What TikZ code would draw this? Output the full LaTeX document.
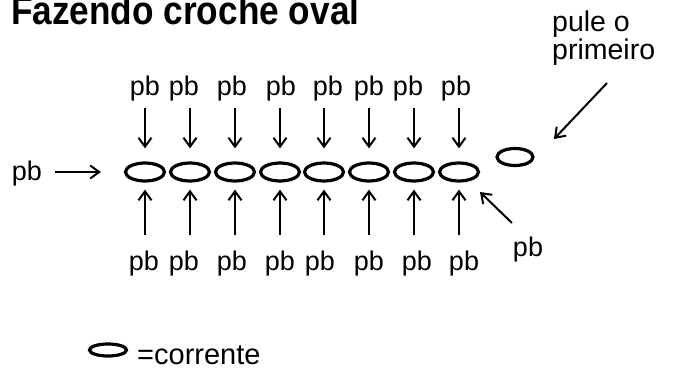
\documentclass[tikz,border=0pt]{standalone}
\usepackage{fontspec}
\setmainfont{Liberation Sans}
\newfontfamily\titlefont[FakeStretch = 0.88]{Liberation Sans Bold}
\usetikzlibrary{arrows.meta,shapes.geometric}

\begin{document}
\begin{tikzpicture}[
  x = 1pt,
  y = -1pt,
  oval/.style = {
    shape = ellipse,
    draw = black,
    line width = 3.2pt,
    minimum width = 39pt,
    minimum height = 18pt,
    inner sep = 0pt,
  },
  pbtext/.style = {
    inner sep = 0pt,
    font = \fontsize{27}{30}\selectfont,
  },
  arr/.style = {
    line width = 2pt,
    -{Straight Barb[length = 9pt, width = 13pt]},
  },
]
  \useasboundingbox (0, 0) rectangle (675, 372);

  \draw node[anchor = base west, inner sep = 0pt,
    font = \fontsize{40}{44}\titlefont] (title) at (11, 24) {Fazendo croche oval};
  \draw node[anchor = north west, inner sep = 0pt, align = left,
    font = \fontsize{28.5}{28}\selectfont] (skip) at (552, 11) {pule o\\primeiro};

  % chain of stitches
  \draw node[oval] (O1) at (145, 172) {};
  \draw node[oval] (O2) at (190, 172) {};
  \draw node[oval] (O3) at (235, 172) {};
  \draw node[oval] (O4) at (280, 172) {};
  \draw node[oval] (O5) at (324, 172) {};
  \draw node[oval] (O6) at (369, 172) {};
  \draw node[oval] (O7) at (414, 172) {};
  \draw node[oval] (O8) at (459, 172) {};
  \draw node[oval, minimum width = 36pt, minimum height = 17pt] (S) at (515, 157) {};

  \draw node[pbtext] (T1) at (145, 89) {pb};
  \draw node[pbtext] (T2) at (184, 89) {pb};
  \draw node[pbtext] (T3) at (232, 89) {pb};
  \draw node[pbtext] (T4) at (281, 89) {pb};
  \draw node[pbtext] (T5) at (328, 89) {pb};
  \draw node[pbtext] (T6) at (369, 89) {pb};
  \draw node[pbtext] (T7) at (408, 89) {pb};
  \draw node[pbtext] (T8) at (456, 89) {pb};

  \draw node[pbtext] (B1) at (144, 264) {pb};
  \draw node[pbtext] (B2) at (184, 264) {pb};
  \draw node[pbtext] (B3) at (232, 264) {pb};
  \draw node[pbtext] (B4) at (280, 264) {pb};
  \draw node[pbtext] (B5) at (320, 264) {pb};
  \draw node[pbtext] (B6) at (369, 264) {pb};
  \draw node[pbtext] (B7) at (417, 264) {pb};
  \draw node[pbtext] (B8) at (464, 264) {pb};

  \draw node[pbtext] (L) at (27, 174) {pb};
  \draw node[pbtext] (R) at (528, 250) {pb};

  \draw[arr, shorten < = 6pt, shorten > = 13pt] (T1.south -| O1) -- (O1.north);
  \draw[arr, shorten < = 6pt, shorten > = 13pt] (T2.south -| O2) -- (O2.north);
  \draw[arr, shorten < = 6pt, shorten > = 13pt] (T3.south -| O3) -- (O3.north);
  \draw[arr, shorten < = 6pt, shorten > = 13pt] (T4.south -| O4) -- (O4.north);
  \draw[arr, shorten < = 6pt, shorten > = 13pt] (T5.south -| O5) -- (O5.north);
  \draw[arr, shorten < = 6pt, shorten > = 13pt] (T6.south -| O6) -- (O6.north);
  \draw[arr, shorten < = 6pt, shorten > = 13pt] (T7.south -| O7) -- (O7.north);
  \draw[arr, shorten < = 6pt, shorten > = 13pt] (T8.south -| O8) -- (O8.north);

  \draw[arr, shorten < = 16pt, shorten > = 7pt] (B1.north -| O1) -- (O1.south);
  \draw[arr, shorten < = 16pt, shorten > = 7pt] (B2.north -| O2) -- (O2.south);
  \draw[arr, shorten < = 16pt, shorten > = 7pt] (B3.north -| O3) -- (O3.south);
  \draw[arr, shorten < = 16pt, shorten > = 7pt] (B4.north -| O4) -- (O4.south);
  \draw[arr, shorten < = 16pt, shorten > = 7pt] (B5.north -| O5) -- (O5.south);
  \draw[arr, shorten < = 16pt, shorten > = 7pt] (B6.north -| O6) -- (O6.south);
  \draw[arr, shorten < = 16pt, shorten > = 7pt] (B7.north -| O7) -- (O7.south);
  \draw[arr, shorten < = 16pt, shorten > = 7pt] (B8.north -| O8) -- (O8.south);

  \draw[arr, shorten < = 13pt, shorten > = 23pt] (L.east |- O1) -- (O1.west);

  \coordinate (R1) at (512, 223);
  \coordinate (R2) at (480, 192);
  \draw[arr] (R1) -- (R2);
  \coordinate (S1) at (607, 83);
  \coordinate (S2) at (554, 139);
  \draw[arr] (S1) -- (S2);

  % legend
  \draw node[oval, minimum width = 37pt, minimum height = 12pt] (key) at (108, 350) {};
  \draw node[anchor = base west, inner sep = 0pt,
    font = \fontsize{29}{32}\selectfont] (keytext) at (137, 364) {=corrente};
\end{tikzpicture}
\end{document}
